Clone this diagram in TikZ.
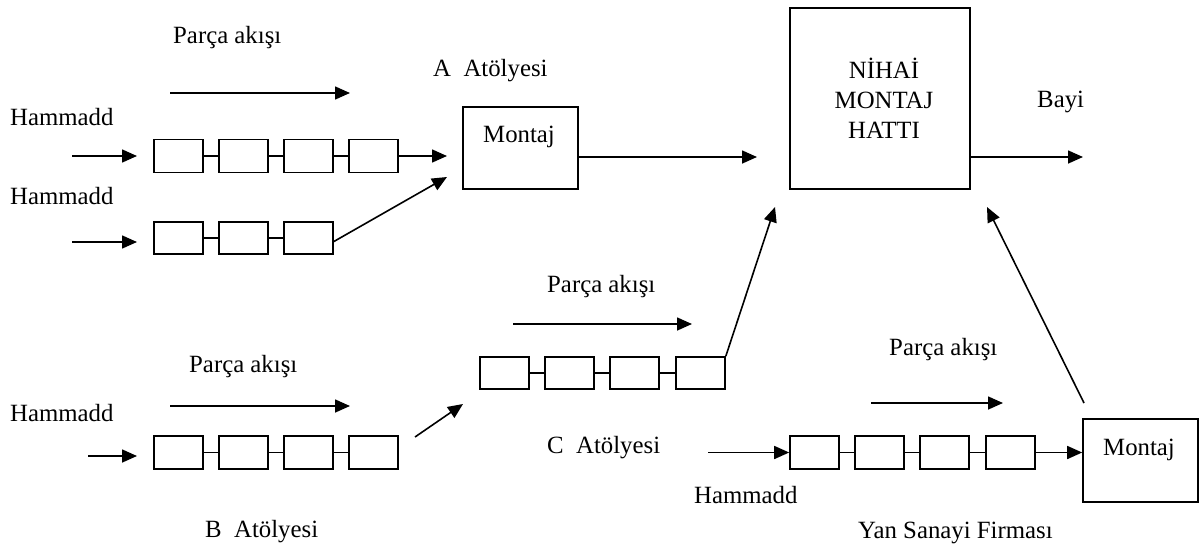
\documentclass[tikz,border=0pt]{standalone}
\usepackage{fontspec}
\setmainfont{Liberation Serif}
\usetikzlibrary{arrows.meta}
\begin{document}
\begin{tikzpicture}[x=1pt,y=-1pt,
  every node/.style={font=\fontsize{24.8}{29.8}\selectfont, inner sep=0pt},
  cell/.style={draw, line width=1.6pt, minimum width=49pt, minimum height=33pt},
  bigbox/.style={draw, line width=1.6pt},
  link/.style={line width=1.6pt},
  arr/.style={line width=1.6pt, -{Triangle[length=15pt,width=13pt]}},
  lbl/.style={anchor=base west}]
\useasboundingbox (0,0) rectangle (1199,546);

% main boxes
\node[bigbox, minimum width=115pt, minimum height=82pt] (mA) at (520.5,148) {};
\node[bigbox, minimum width=180pt, minimum height=181pt] (nihai) at (880,98.5) {};
\node[bigbox, minimum width=115pt, minimum height=83pt] (mY) at (1140.5,460.5) {};

% workshop A, first line
\foreach \i/\x in {1/178.5,2/243.5,3/308.5,4/373.5}
  \node[cell] (a\i) at (\x,156) {};
% workshop A, second line
\foreach \i/\x in {1/178.5,2/243.5,3/308.5}
  \node[cell, minimum height=32pt] (r\i) at (\x,238) {};
% workshop B
\foreach \i/\x in {1/178.5,2/243.5,3/308.5,4/373.5}
  \node[cell] (b\i) at (\x,452.5) {};
% workshop C
\foreach \i/\x in {1/504.5,2/569.5,3/634.5,4/700.5}
  \node[cell, minimum height=32pt] (c\i) at (\x,373) {};
% supplier line
\foreach \i/\x in {1/814.5,2/879.5,3/944.5,4/1010.5}
  \node[cell] (y\i) at (\x,452.5) {};

% links inside each line
\draw[link] (a1)--(a2) (a2)--(a3) (a3)--(a4);
\draw[link] (r1)--(r2) (r2)--(r3);
\draw[link] (b1)--(b2) (b2)--(b3) (b3)--(b4);
\draw[link] (c1)--(c2) (c2)--(c3) (c3)--(c4);
\draw[link] (y1)--(y2) (y2)--(y3) (y3)--(y4);

% free arrow ends
\coordinate (inA1) at (72,156);   \coordinate (toA1) at (137,156);
\coordinate (inA2) at (72,242);   \coordinate (toA2) at (137,242);
\coordinate (outA1) at (447,156);
\coordinate (fromR) at (333,242); \coordinate (outA2) at (447,177);
\coordinate (toN1) at (757,157);
\coordinate (toBayi) at (1083,157);
\coordinate (toN2) at (775,207);
\coordinate (inB) at (88,456);    \coordinate (toB) at (137,456);
\coordinate (fromB) at (415,437); \coordinate (toC) at (463,404);
\coordinate (inY) at (708,452.5);
\coordinate (fromY) at (1084,403); \coordinate (toN3) at (987,207);

% flow arrows
\draw[arr] (inA1) -- (toA1);
\draw[arr] (a4.east) -- (outA1);
\draw[arr] (inA2) -- (toA2);
\draw[arr] (fromR) -- (outA2);
\draw[arr] (mA.east |- toN1) -- (toN1);
\draw[arr] (nihai.east |- toBayi) -- (toBayi);
\draw[arr] (c4.north east) -- (toN2);
\draw[arr] (inB) -- (toB);
\draw[arr] (fromB) -- (toC);
\draw[arr] (inY) -- (y1.west);
\draw[arr] (y4.east) -- (mY.west |- y4.east);
\draw[arr] (fromY) -- (toN3);

% part flow direction arrows
\coordinate (pA0) at (170,93);  \coordinate (pA1) at (350,93);
\coordinate (pB0) at (170,406); \coordinate (pB1) at (350,406);
\coordinate (pC0) at (513,324); \coordinate (pC1) at (692,324);
\coordinate (pY0) at (871,403); \coordinate (pY1) at (1003,403);
\draw[arr] (pA0) -- (pA1);
\draw[arr] (pB0) -- (pB1);
\draw[arr] (pC0) -- (pC1);
\draw[arr] (pY0) -- (pY1);

% labels
\node[lbl] (tpA) at (173,43) {Parça akışı};
\node[lbl] (tpB) at (189,372) {Parça akışı};
\node[lbl] (tpC) at (547,292) {Parça akışı};
\node[lbl] (tpY) at (889,355) {Parça akışı};
\node[lbl] (h1) at (10,125) {Hammadd};
\node[lbl] (h2) at (10,204) {Hammadd};
\node[lbl] (h3) at (10,421) {Hammadd};
\node[lbl] (h4) at (694,503) {Hammadd};
\node[lbl] (wA) at (433,76) {A\ \ Atölyesi};
\node[lbl] (wB) at (205,537) {B\ \ Atölyesi};
\node[lbl] (wC) at (547,453) {C\ \ Atölyesi};
\node[lbl] (wY) at (858,538) {Yan Sanayi Firması};
\node[lbl] (tmA) at (483,142) {Montaj};
\node[lbl] (tmY) at (1103,455) {Montaj};
\node[lbl] (bayi) at (1037,107) {Bayi};
\node[anchor=north, align=center] (tn) at (884,58) {NİHAİ\\MONTAJ\\HATTI};
\end{tikzpicture}
\end{document}
